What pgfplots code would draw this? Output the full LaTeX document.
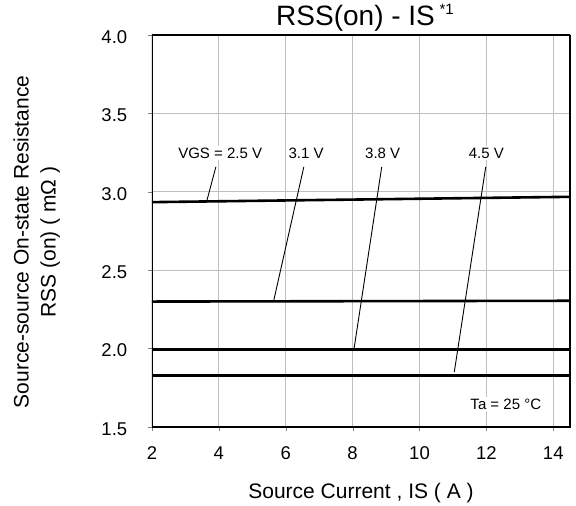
\documentclass[border=0pt]{standalone}
\usepackage{fontspec}
\setmainfont{Liberation Sans}
\usepackage{pgfplots}
\pgfplotsset{compat=1.18}

\begin{document}
\begin{tikzpicture}
\begin{axis}[
  scale only axis,
  width=418pt, height=392pt,
  xmin=2, xmax=14.5,
  ymin=1.5, ymax=4,
  xtick={2,4,6,8,10,12,14},
  xticklabels={2,4,6,8,10,12,14},
  ytick={1.5,2.0,2.5,3.0,3.5,4.0},
  yticklabels={1.5,2.0,2.5,3.0,3.5,4.0},
  tick align=outside,
  xtick pos=bottom, ytick pos=left,
  tick label style={font=\fontsize{18.5}{20}\selectfont},
  yticklabel style={anchor=east, xshift=-17pt, yshift=-2pt},
  xticklabel style={anchor=north, yshift=-12pt},
  title={RSS(on) - IS\,\raisebox{11pt}{\fontsize{15}{15}\selectfont *1}},
  title style={at={(axis description cs:0.5,1)}, anchor=base, yshift=3pt,
    xshift=4pt, font=\fontsize{28}{30}\selectfont},
  xlabel={Source Current , IS ( A )},
  xlabel style={at={(axis description cs:0.5,0)}, anchor=base, yshift=-71pt,
    font=\fontsize{21}{24}\selectfont},
  ylabel={Source-source On-state Resistance\\RSS (on) ( mΩ )},
  every axis y label/.style={at={(axis description cs:-0.276,0.472)},
    rotate=90, anchor=center, align=center,
    font=\fontsize{21}{27}\selectfont},
]
% grid lines
\pgfplotsinvokeforeach{4,6,8,10,12,14}{
  \draw[black!25, line width=1pt] (axis cs:#1,1.5) -- (axis cs:#1,4);
}
\pgfplotsinvokeforeach{2.0,2.5,3.0,3.5}{
  \draw[black!25, line width=1pt] (axis cs:2,#1) -- (axis cs:14.5,#1);
}
% curves
\addplot[black, line width=2.6pt] coordinates {(2,2.934) (14.5,2.968)};
\addplot[black, line width=2.6pt] coordinates {(2,2.300) (14.5,2.305)};
\addplot[black, line width=2.6pt] coordinates {(2,1.996) (14.5,1.996)};
\addplot[black, line width=2.6pt] coordinates {(2,1.828) (14.5,1.828)};
% leader lines
\addplot[black, line width=0.9pt] coordinates {(3.91,3.159) (3.64,2.943)};
\addplot[black, line width=0.9pt] coordinates {(6.54,3.159) (5.64,2.306)};
\addplot[black, line width=0.9pt] coordinates {(8.87,3.159) (8.04,1.996)};
\addplot[black, line width=0.9pt] coordinates {(11.98,3.159) (11.04,1.851)};
% labels
\begin{scope}[every node/.style={fill=white, inner sep=2pt, font=\fontsize{15}{17}\selectfont}]
\node at (axis cs:4.04,3.247) {VGS = 2.5 V};
\node at (axis cs:6.61,3.247) {3.1 V};
\node at (axis cs:8.90,3.247) {3.8 V};
\node at (axis cs:12.0,3.247) {4.5 V};
\node at (axis cs:12.58,1.645) {Ta = 25 °C};
\end{scope}
% heavier frame
\draw[line width=1.8pt] (rel axis cs:0,0) rectangle (rel axis cs:1,1);
\end{axis}
\path[use as bounding box] (-152pt,-79pt) rectangle (424pt,427pt);
\end{tikzpicture}
\end{document}
